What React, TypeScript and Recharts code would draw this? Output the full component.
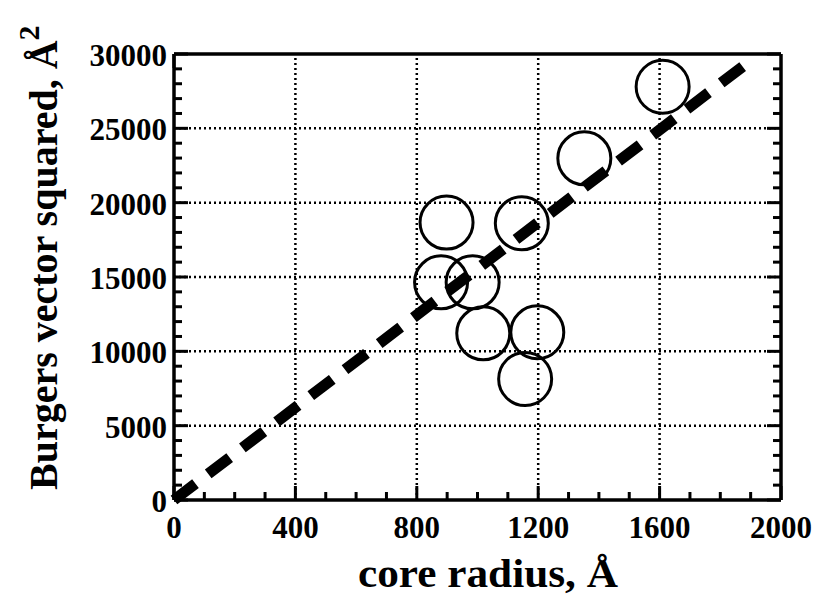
import {
  ComposedChart,
  Scatter,
  XAxis,
  YAxis,
  ReferenceLine,
  Label,
} from "recharts";

// core radius (Å) and Burgers vector squared (Å^2)
const coreRadius = [898, 1146, 880, 984, 1019, 1197, 1157, 1352, 1610];
const burgersSq = [18660, 18610, 14640, 14640, 11210, 11280, 8140, 22980, 27800];

// dashed fit line endpoints
const fitX = [0, 1885];
const fitY = [0, 29330];

const xMajor = [0, 400, 800, 1200, 1600, 2000];
const yMajor = [0, 5000, 10000, 15000, 20000, 25000, 30000];
const xGrid = [400, 800, 1200, 1600];
const yGrid = [5000, 10000, 15000, 20000, 25000];
const xMinor = Array.from({ length: 21 }, (_, i) => i * 100);
const yMinor = Array.from({ length: 31 }, (_, i) => i * 1000);

const points = coreRadius.map((x, i) => ({ x, y: burgersSq[i] }));

const FONT = "'Liberation Serif', 'Times New Roman', serif";
const MAJOR = 14;
const MINOR = 8;

type Side = "bottom" | "top" | "left" | "right";

function makeTick(side: Side, majors: number[], labels: boolean) {
  return (props: any) => {
    const { x, y, payload } = props;
    const v = payload.value;
    const len = majors.includes(v) ? MAJOR : MINOR;
    let line;
    if (side === "bottom") line = <line x1={x} y1={y} x2={x} y2={y - len} />;
    else if (side === "top") line = <line x1={x} y1={y} x2={x} y2={y + len} />;
    else if (side === "left") line = <line x1={x} y1={y} x2={x + len} y2={y} />;
    else line = <line x1={x} y1={y} x2={x - len} y2={y} />;
    return (
      <g stroke="#000" strokeWidth={3}>
        {line}
        {labels && majors.includes(v) && side === "bottom" && (
          <text x={x} y={y + 38} textAnchor="middle" stroke="none" fill="#000"
            fontFamily={FONT} fontWeight="bold" fontSize={31}>
            {v}
          </text>
        )}
        {labels && majors.includes(v) && side === "left" && (
          <text x={x - 7} y={y + 12} textAnchor="end" stroke="none" fill="#000"
            fontFamily={FONT} fontWeight="bold" fontSize={31}>
            {v}
          </text>
        )}
      </g>
    );
  };
}

const Ring = (props: any) => (
  <circle cx={props.cx} cy={props.cy} r={26.5} fill="none" stroke="#000" strokeWidth={3} />
);

export default function App() {
  const axisLine = { stroke: "#000", strokeWidth: 3.5 };
  return (
    <div style={{ position: "absolute", left: 0, top: 0, background: "#fff" }}>
      <ComposedChart
        width={819}
        height={599}
        data={points}
        margin={{ top: 53, right: 37, left: 173, bottom: 98 }}
      >
        <XAxis type="number" dataKey="x" domain={[0, 2000]} ticks={xMinor} interval={0}
          height={1} tickSize={0} tickMargin={0} tickLine={false} axisLine={axisLine}
          tick={makeTick("bottom", xMajor, true)} allowDataOverflow>
          <Label
            content={(p: any) => (
              <text x={488} y={587} textAnchor="middle"
                fontFamily={FONT} fontWeight="bold" fontSize={40} textLength={260}
                lengthAdjust="spacingAndGlyphs" fill="#000">
                core radius, Å
              </text>
            )}
          />
        </XAxis>
        <XAxis xAxisId="top" orientation="top" type="number" domain={[0, 2000]} ticks={xMinor}
          interval={0} height={1} tickSize={0} tickMargin={0} tickLine={false}
          axisLine={axisLine} tick={makeTick("top", xMajor, false)} allowDataOverflow />
        <YAxis type="number" dataKey="y" domain={[0, 30000]} ticks={yMinor} interval={0}
          width={1} tickSize={0} tickMargin={0} tickLine={false} axisLine={axisLine}
          tick={makeTick("left", yMajor, true)} allowDataOverflow>
          <Label
            content={() => (
              <text transform="translate(57, 490) rotate(-90)" x={0} y={0} textAnchor="start"
                fontFamily={FONT} fontWeight="bold" fontSize={40} fill="#000">
                Burgers vector squared, Å
                <tspan fontSize={30} dy={-18}>2</tspan>
              </text>
            )}
          />
        </YAxis>
        <YAxis yAxisId="right" orientation="right" type="number" domain={[0, 30000]}
          ticks={yMinor} interval={0} width={1} tickSize={0} tickMargin={0} tickLine={false}
          axisLine={axisLine} tick={makeTick("right", yMajor, false)} allowDataOverflow />
        {xGrid.map((v) => (
          <ReferenceLine key={`gx${v}`} x={v} stroke="#000" strokeWidth={2.5} strokeDasharray="2 3" />
        ))}
        {yGrid.map((v) => (
          <ReferenceLine key={`gy${v}`} y={v} stroke="#000" strokeWidth={2.5} strokeDasharray="2 3" />
        ))}
        <ReferenceLine
          segment={[
            { x: fitX[0], y: fitY[0] },
            { x: fitX[1], y: fitY[1] },
          ]}
          stroke="#000"
          strokeWidth={11}
          strokeDasharray="27 16"
        />
        <Scatter data={points} dataKey="y" shape={Ring} isAnimationActive={false} />
      </ComposedChart>
    </div>
  );
}
